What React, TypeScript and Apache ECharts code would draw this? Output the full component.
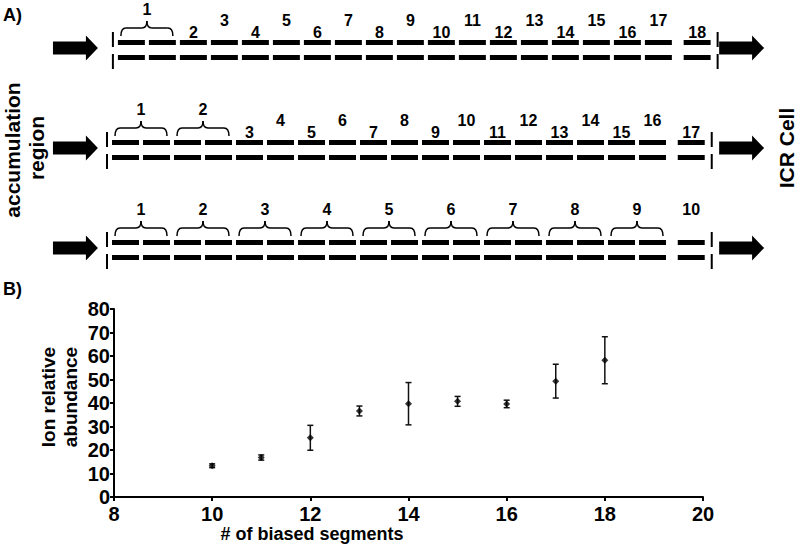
import React, { useEffect, useRef } from "react";
import * as echarts from "echarts";

// ---------- Data ----------
// Panel B: ion relative abundance vs number of biased segments
const biasedSegments = [10, 11, 12, 13, 14, 15, 16, 17, 18];
const meanAbundance = [13.3, 16.8, 25.2, 36.6, 39.7, 40.7, 39.6, 49.3, 58.2];
const errAbundance = [0.8, 1.1, 5.3, 2.1, 9.0, 2.1, 1.6, 7.2, 10.0];

// Panel A: electrode segments grouped per labelled section, one list per configuration
const row1Groups = [2, 1, 1, 1, 1, 1, 1, 1, 1, 1, 1, 1, 1, 1, 1, 1, 1, 1];
const row2Groups = [2, 2, 1, 1, 1, 1, 1, 1, 1, 1, 1, 1, 1, 1, 1, 1, 1];
const row3Groups = [2, 2, 2, 2, 2, 2, 2, 2, 2, 1];
const rowGroups = [row1Groups, row2Groups, row3Groups];
const rowIds = [0, 1, 2];

// Axis ranges / ticks
const xMin = 8, xMax = 20, xStep = 2;
const yMin = 0, yMax = 80, yStep = 10;
const yTitleLines = ["Ion relative", "abundance"];

// ---------- Layout / style constants ----------
const FONT = "Liberation Sans, Arial, Helvetica, sans-serif";
const ROW_OFFSET = [0.19, 0, 0];
const LAST_GAP = 0.25;
const SEG_W = 0.87;
const STAGGER = [true, true, false];

export default function App() {
  const ref = useRef<HTMLDivElement>(null);

  useEffect(() => {
    if (!ref.current) return;
    const chart = echarts.init(ref.current, null, { renderer: "svg" });

    const renderRow = (params: any, api: any) => {
      const r = api.value(1);
      const groups = rowGroups[r];
      const n = groups.reduce((a: number, b: number) => a + b, 0);
      const cy = api.coord([0, r])[1];
      const X = (u: number) => api.coord([u, r])[0];
      const unit = X(1) - X(0);
      const segC = (i: number) => i + ROW_OFFSET[r] + (i === n - 1 ? LAST_GAP : 0);
      const halfW = (SEG_W * unit) / 2;
      const children: any[] = [];
      for (let i = 0; i < n; i++) {
        const cx = X(segC(i));
        for (const dy of [-7.5, 7.5]) {
          children.push({
            type: "rect",
            shape: { x: cx - halfW, y: cy + dy - 2.5, width: 2 * halfW, height: 5 },
            style: { fill: "#000" },
          });
        }
      }
      const leftX = X(segC(0)) - halfW - 5;
      const rightX = X(segC(n - 1)) + halfW + 7;
      for (const lx of [leftX, rightX]) {
        children.push({ type: "line", shape: { x1: lx, y1: cy - 18, x2: lx, y2: cy - 3 }, style: { stroke: "#000", lineWidth: 2 } });
        children.push({ type: "line", shape: { x1: lx, y1: cy + 4, x2: lx, y2: cy + 19 }, style: { stroke: "#000", lineWidth: 2 } });
      }
      const arrow = (x0: number, x1: number, ay: number) => {
        const xh = x1 - 12;
        return {
          type: "polygon",
          shape: {
            points: [
              [x0, ay - 6.5], [xh, ay - 6.5], [xh, ay - 12.5], [x1, ay],
              [xh, ay + 12.5], [xh, ay + 6.5], [x0, ay + 6.5],
            ],
          },
          style: { fill: "#000" },
        };
      };
      children.push(arrow(X(-2.34), X(-0.89), cy - 2));
      children.push(arrow(X(19.15), X(20.6), cy - 2));

      const braceStyle = { stroke: "#000", lineWidth: 1.5, fill: "none" };
      let s = 0;
      let single = 0;
      groups.forEach((g: number, k: number) => {
        const xl = X(segC(s)) - halfW;
        const xr = X(segC(s + g - 1)) + halfW;
        const xc = (xl + xr) / 2;
        let ly: number;
        if (g > 1) {
          const bl = xl + 3, br = xr - 3;
          const yE = cy - 14, yM = cy - 22, yP = cy - 29, rr = 5;
          children.push({ type: "bezierCurve", shape: { x1: bl, y1: yE, cpx1: bl, cpy1: yM, x2: bl + rr, y2: yM }, style: braceStyle });
          children.push({ type: "line", shape: { x1: bl + rr, y1: yM, x2: xc - rr, y2: yM }, style: braceStyle });
          children.push({ type: "bezierCurve", shape: { x1: xc - rr, y1: yM, cpx1: xc, cpy1: yM, x2: xc, y2: yP }, style: braceStyle });
          children.push({ type: "bezierCurve", shape: { x1: xc, y1: yP, cpx1: xc, cpy1: yM, x2: xc + rr, y2: yM }, style: braceStyle });
          children.push({ type: "line", shape: { x1: xc + rr, y1: yM, x2: br - rr, y2: yM }, style: braceStyle });
          children.push({ type: "bezierCurve", shape: { x1: br - rr, y1: yM, cpx1: br, cpy1: yM, x2: br, y2: yE }, style: braceStyle });
          ly = cy - 41;
        } else if (STAGGER[r]) {
          ly = cy + (single % 2 === 0 ? -18 : -30);
          single++;
        } else {
          ly = cy - 41;
        }
        children.push({
          type: "text",
          x: xc,
          y: ly,
          style: {
            text: String(k + 1),
            fill: "#000",
            font: `bold 16px ${FONT}`,
            align: "center",
            verticalAlign: "middle",
          },
        });
        s += g;
      });
      return { type: "group", children };
    };

    const renderErr = (params: any, api: any) => {
      const x = api.value(0);
      const lo = api.coord([x, api.value(1)]);
      const hi = api.coord([x, api.value(2)]);
      const st = { stroke: "#111", lineWidth: 1.5 };
      return {
        type: "group",
        children: [
          { type: "line", shape: { x1: lo[0], y1: lo[1], x2: hi[0], y2: hi[1] }, style: st },
          { type: "line", shape: { x1: lo[0] - 3, y1: lo[1], x2: lo[0] + 3, y2: lo[1] }, style: st },
          { type: "line", shape: { x1: hi[0] - 3, y1: hi[1], x2: hi[0] + 3, y2: hi[1] }, style: st },
        ],
      };
    };

    const axisText = { color: "#000", fontSize: 20, fontWeight: "bold" as const, fontFamily: FONT };

    chart.setOption({
      animation: false,
      backgroundColor: "#fff",
      grid: [
        { left: 114, top: 309, width: 589, height: 188 },
        { left: 1.5, top: 0, width: 775, height: 300 },
      ],
      xAxis: [
        {
          gridIndex: 0,
          type: "value",
          min: xMin,
          max: xMax,
          interval: xStep,
          axisLine: { show: true, lineStyle: { color: "#000", width: 2 } },
          axisTick: { show: true, length: 4, lineStyle: { color: "#000", width: 2 } },
          axisLabel: { ...axisText, margin: 7 },
          splitLine: { show: false },
          name: "# of biased segments",
          nameLocation: "middle",
          nameGap: 28,
          nameTextStyle: { color: "#000", fontSize: 18, fontWeight: "bold", fontFamily: FONT, padding: [0, 193, 0, 0] },
        },
        { gridIndex: 1, type: "value", min: -4, max: 21, show: false },
      ],
      yAxis: [
        {
          gridIndex: 0,
          type: "value",
          min: yMin,
          max: yMax,
          interval: yStep,
          axisLine: { show: true, lineStyle: { color: "#000", width: 2 } },
          axisTick: { show: true, length: 4, lineStyle: { color: "#000", width: 2 } },
          axisLabel: { ...axisText, margin: 4 },
          splitLine: { show: false },
        },
        { gridIndex: 1, type: "value", min: -0.5, max: 2.5, inverse: true, show: false },
      ],
      graphic: [
        { type: "text", x: 3, y: 6, style: { text: "A)", fill: "#000", font: `bold 18px ${FONT}`, align: "left", verticalAlign: "top" } },
        { type: "text", x: 3, y: 280, style: { text: "B)", fill: "#000", font: `bold 18px ${FONT}`, align: "left", verticalAlign: "top" } },
        { type: "text", x: 12, y: 150, rotation: Math.PI / 2, style: { text: "accumulation", fill: "#000", font: `bold 21px ${FONT}`, align: "center", verticalAlign: "middle" } },
        { type: "text", x: 36, y: 148, rotation: Math.PI / 2, style: { text: "region", fill: "#000", font: `bold 21px ${FONT}`, align: "center", verticalAlign: "middle" } },
        { type: "text", x: 786, y: 148, rotation: Math.PI / 2, style: { text: "ICR Cell", fill: "#000", font: `bold 21px ${FONT}`, align: "center", verticalAlign: "middle" } },
        { type: "text", x: 48, y: 397, rotation: Math.PI / 2, style: { text: yTitleLines[0], fill: "#000", font: `bold 19px ${FONT}`, align: "center", verticalAlign: "middle" } },
        { type: "text", x: 70, y: 397, rotation: Math.PI / 2, style: { text: yTitleLines[1], fill: "#000", font: `bold 19px ${FONT}`, align: "center", verticalAlign: "middle" } },
      ],
      series: [
        {
          type: "custom",
          name: "electrodes",
          xAxisIndex: 1,
          yAxisIndex: 1,
          clip: false,
          silent: true,
          data: rowIds.map((r) => [0, r]),
          encode: { x: 0, y: 1 },
          renderItem: renderRow,
        },
        {
          type: "custom",
          name: "error",
          xAxisIndex: 0,
          yAxisIndex: 0,
          data: biasedSegments.map((x, i) => [x, meanAbundance[i] - errAbundance[i], meanAbundance[i] + errAbundance[i]]),
          encode: { x: 0, y: [1, 2] },
          renderItem: renderErr,
          z: 2,
        },
        {
          type: "scatter",
          name: "abundance",
          xAxisIndex: 0,
          yAxisIndex: 0,
          symbol: "diamond",
          symbolSize: 7,
          itemStyle: { color: "#000" },
          data: biasedSegments.map((x, i) => [x, meanAbundance[i]]),
          z: 3,
        },
      ],
    });

    return () => chart.dispose();
  }, []);

  return <div ref={ref} style={{ position: "fixed", left: 0, top: 0, width: 800, height: 545, background: "#fff" }} />;
}
